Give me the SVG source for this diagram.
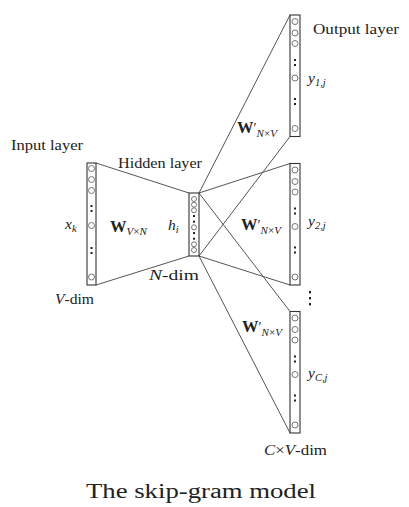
<svg xmlns="http://www.w3.org/2000/svg" width="409" height="507" viewBox="0 0 409 507">
<style>
  text { font-family: "Liberation Serif", "Times New Roman", serif; fill: #222; }
  .lbl { font-size: 15.5px; }
  .it { font-style: italic; }
  .sub { font-size: 10.5px; font-style: italic; }
  .bw { font-weight: bold; font-size: 16.5px; }
  .box { fill: #fff; stroke: #333; stroke-width: 1.1; }
  .c { fill: none; stroke: #666; stroke-width: 0.9; }
  .d { fill: #222; }
  .conn line { stroke: #555; stroke-width: 1; }
</style>
<defs>
  <g id="outCol">
    <rect class="box" x="0" y="0" width="10" height="121.5"/>
    <circle class="c" cx="5" cy="6.5" r="3"/>
    <circle class="c" cx="5" cy="18" r="3"/>
    <circle class="c" cx="5" cy="28.5" r="3"/>
    <rect class="d" x="4" y="44" width="2" height="2"/>
    <rect class="d" x="4" y="49" width="2" height="2"/>
    <circle class="c" cx="5" cy="63" r="3"/>
    <rect class="d" x="4" y="83" width="2" height="2"/>
    <rect class="d" x="4" y="88" width="2" height="2"/>
    <circle class="c" cx="5" cy="113.5" r="3"/>
  </g>
</defs>
<rect width="409" height="507" fill="#fff"/>

<g class="conn" id="connectors">
  <line x1="96" y1="163" x2="189" y2="193"/>
  <line x1="96" y1="285" x2="189" y2="256"/>
  <line x1="199" y1="193" x2="290" y2="15"/>
  <line x1="199" y1="193" x2="290" y2="163.5"/>
  <line x1="199" y1="193" x2="290" y2="311.5"/>
  <line x1="199" y1="256" x2="290" y2="136.5"/>
  <line x1="199" y1="256" x2="290" y2="285"/>
  <line x1="199" y1="256" x2="290" y2="433"/>
</g>

<g id="input-layer">
  <rect class="box" x="87" y="163" width="9" height="122"/>
  <circle class="c" cx="91.5" cy="168.5" r="3"/>
  <circle class="c" cx="91.5" cy="179.5" r="3"/>
  <circle class="c" cx="91.5" cy="190.5" r="3"/>
  <rect class="d" x="90.5" y="205" width="2" height="2"/>
  <rect class="d" x="90.5" y="210" width="2" height="2"/>
  <circle class="c" cx="91.5" cy="225.5" r="3"/>
  <rect class="d" x="90.5" y="247" width="2" height="2"/>
  <rect class="d" x="90.5" y="252" width="2" height="2"/>
  <circle class="c" cx="91.5" cy="277" r="3"/>
  <text class="lbl" x="11" y="150" textLength="72" lengthAdjust="spacingAndGlyphs">Input layer</text>
  <text class="lbl it" x="65" y="229">x<tspan class="sub" dy="3">k</tspan></text>
  <text class="lbl" x="55" y="304" textLength="39" lengthAdjust="spacingAndGlyphs"><tspan class="it">V</tspan>-dim</text>
</g>

<g id="hidden-layer">
  <rect class="box" x="189" y="193" width="10" height="63"/>
  <circle class="c" cx="194" cy="199" r="2.5"/>
  <circle class="c" cx="194" cy="204.7" r="2.5"/>
  <circle class="c" cx="194" cy="210.3" r="2.5"/>
  <rect class="d" x="193" y="215" width="2" height="2"/>
  <rect class="d" x="193" y="220.7" width="2" height="2"/>
  <circle class="c" cx="194" cy="227.3" r="2.5"/>
  <rect class="d" x="193" y="232" width="2" height="2"/>
  <rect class="d" x="193" y="237.7" width="2" height="2"/>
  <circle class="c" cx="194" cy="244.3" r="2.5"/>
  <circle class="c" cx="194" cy="250" r="2.5"/>
  <text class="lbl" x="118" y="168" textLength="84" lengthAdjust="spacingAndGlyphs">Hidden layer</text>
  <text class="lbl it" x="168" y="230">h<tspan class="sub" dy="3">i</tspan></text>
  <text class="lbl" x="149" y="280" textLength="50" lengthAdjust="spacingAndGlyphs"><tspan class="it">N</tspan>-dim</text>
  <text x="110" y="232"><tspan class="bw">W</tspan><tspan font-size="11" dy="3"><tspan class="it">V</tspan>×<tspan class="it">N</tspan></tspan></text>
</g>

<g id="output-layer-1">
  <use href="#outCol" x="290" y="15"/>
  <text class="lbl" x="313" y="34" textLength="86" lengthAdjust="spacingAndGlyphs">Output layer</text>
  <text class="lbl it" x="308" y="83">y<tspan class="sub" dy="3">1,j</tspan></text>
  <text x="237" y="133"><tspan class="bw">W</tspan><tspan font-size="14">′</tspan><tspan font-size="11" dy="4"><tspan class="it">N</tspan>×<tspan class="it">V</tspan></tspan></text>
</g>

<g id="output-layer-2">
  <use href="#outCol" x="290" y="163.5"/>
  <text class="lbl it" x="308" y="226">y<tspan class="sub" dy="3">2,j</tspan></text>
  <text x="241" y="230"><tspan class="bw">W</tspan><tspan font-size="14">′</tspan><tspan font-size="11" dy="4"><tspan class="it">N</tspan>×<tspan class="it">V</tspan></tspan></text>
</g>

<g id="ellipsis">
  <rect class="d" x="309" y="291" width="2" height="2.4"/>
  <rect class="d" x="309" y="297" width="2" height="2.4"/>
  <rect class="d" x="309" y="303" width="2" height="2.4"/>
</g>

<g id="output-layer-C">
  <use href="#outCol" x="290" y="311.5"/>
  <text class="lbl it" x="308" y="378">y<tspan class="sub" dy="3">C,j</tspan></text>
  <text x="242" y="332"><tspan class="bw">W</tspan><tspan font-size="14">′</tspan><tspan font-size="11" dy="4"><tspan class="it">N</tspan>×<tspan class="it">V</tspan></tspan></text>
  <text class="lbl" x="264" y="455" textLength="63" lengthAdjust="spacingAndGlyphs"><tspan class="it">C</tspan>×<tspan class="it">V</tspan>-dim</text>
</g>

<text id="caption" x="86" y="498" font-size="20" textLength="230" lengthAdjust="spacingAndGlyphs">The skip-gram model</text>
</svg>
